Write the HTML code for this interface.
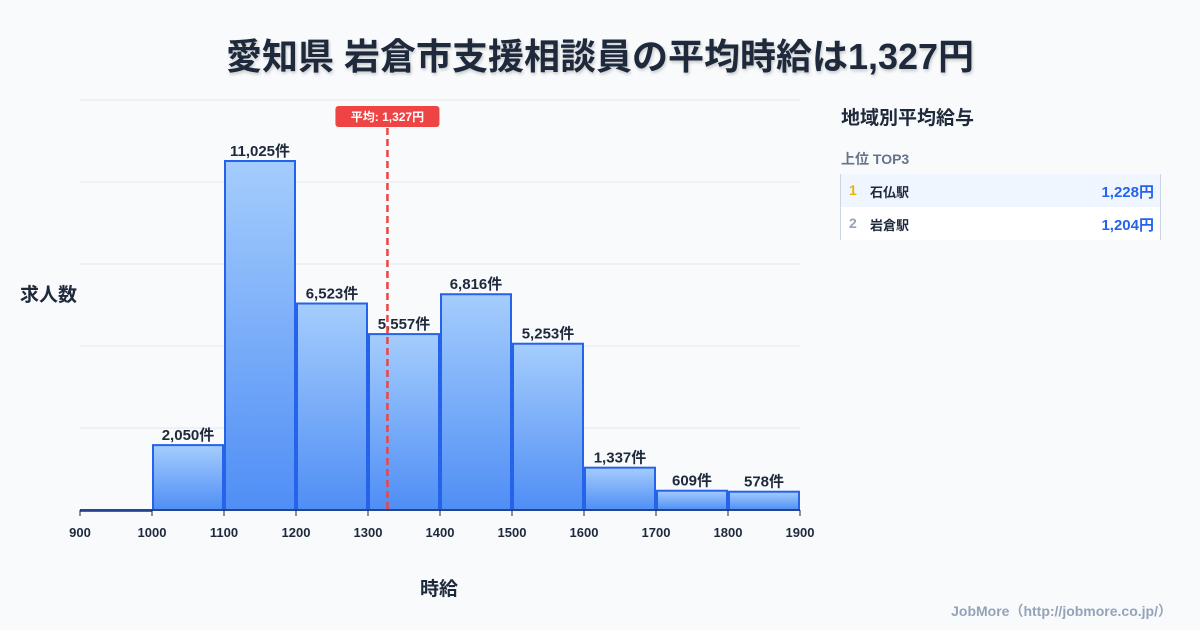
<!DOCTYPE html>
<html><head><meta charset="utf-8"><style>
body{margin:0;width:1200px;height:630px;background:#f8fafc;font-family:"Liberation Sans","Noto Sans CJK JP",sans-serif;overflow:hidden;position:relative}
.t{position:absolute;white-space:nowrap}
</style></head><body>
<div class="t" style="left:0;width:1200px;text-align:center;top:28px;font-size:36px;font-weight:700;color:#1e293b;text-shadow:1px 2px 3px rgba(0,0,0,0.2)">愛知県 岩倉市支援相談員の平均時給は1,327円</div>
<div class="t" style="left:20px;top:280px;font-size:19px;font-weight:700;color:#1e293b">求人数</div>
<div class="t" style="left:420px;top:574px;font-size:19px;font-weight:700;color:#1e293b">時給</div>
<div class="t" style="right:28px;top:601px;font-size:14px;font-weight:700;color:#94a3b8">JobMore（http://jobmore.co.jp/）</div>
<div class="t" style="left:841px;top:103px;font-size:19px;font-weight:700;color:#1e293b">地域別平均給与</div>
<div class="t" style="left:841px;top:149px;font-size:14px;font-weight:700;color:#64748b">上位 TOP3</div>
<div style="position:absolute;left:840px;top:174px;width:319px;border-left:1px solid #cbd5e1;border-right:1px solid #cbd5e1">
 <div style="height:33px;background:#eff6ff;position:relative;font-size:14px;font-weight:700">
  <span class="t" style="left:8px;top:8px;color:#eab308">1</span><span class="t" style="left:29px;top:8px;font-size:13px;color:#1e293b">石仏駅</span><span class="t" style="right:6px;top:7px;color:#2563eb;font-size:15px">1,228円</span></div>
 <div style="height:33px;background:#fff;position:relative;font-size:14px;font-weight:700">
  <span class="t" style="left:8px;top:8px;color:#94a3b8">2</span><span class="t" style="left:29px;top:8px;font-size:13px;color:#1e293b">岩倉駅</span><span class="t" style="right:6px;top:7px;color:#2563eb;font-size:15px">1,204円</span></div>
</div>
<svg id="c" width="1200" height="630" style="position:absolute;left:0;top:0">
<defs><linearGradient id="g" x1="0" y1="0" x2="0" y2="1"><stop offset="0" stop-color="#a5cdfd"/><stop offset="1" stop-color="#4f8ef5"/></linearGradient></defs>
</svg>
<script>
const binStarts=[900,1000,1100,1200,1300,1400,1500,1600,1700,1800];
const counts=[0,2050,11025,6523,5557,6816,5253,1337,609,578];
const xTicks=[900,1000,1100,1200,1300,1400,1500,1600,1700,1800,1900];
const meanValue=1327;
const binWidth=100;
const yMax=12952;
const svg=document.getElementById('c');const NS='http://www.w3.org/2000/svg';
const X=v=>80+(v-900)*0.72, Y=v=>510-v/yMax*410;
function mk(t,a){const e=document.createElementNS(NS,t);for(const k in a)e.setAttribute(k,a[k]);svg.appendChild(e);return e;}
for(let i=1;i<=5;i++){const l=mk('line',{x1:80,x2:800,y1:510-i*82,y2:510-i*82,stroke:'#e2e8f0','stroke-width':1});

}
binStarts.forEach((b,i)=>{const x0=X(b)+1,x1=X(b+binWidth)-1,y=Y(counts[i]);
const r=mk('rect',{x:x0,y:y,width:x1-x0,height:Math.max(510-y,1),fill:'url(#g)',stroke:'#2563eb','stroke-width':2});


if(counts[i]>0){const t=mk('text',{x:(x0+x1)/2,y:y-5,'text-anchor':'middle','font-size':15,'font-weight':700,fill:'#1e293b'});t.textContent=counts[i].toLocaleString('en-US')+'件';

}});
const ax=mk('line',{x1:80,x2:800,y1:510,y2:510,stroke:'#1e293b','stroke-width':1});


xTicks.forEach(v=>{const tk=mk('line',{x1:X(v),x2:X(v),y1:510,y2:516,stroke:'#1e293b'});


const t=mk('text',{x:X(v),y:537,'text-anchor':'middle','font-size':13,'font-weight':700,fill:'#1e293b'});t.textContent=v;

});
const mx=X(meanValue);
const ml=mk('line',{x1:mx,x2:mx,y1:128,y2:510,stroke:'#ef4444','stroke-width':2.5,'stroke-dasharray':'7,4'});


const mb=mk('rect',{x:mx-52,y:106,width:104,height:21,rx:3,fill:'#ef4444'});


const mt=mk('text',{x:mx,y:121,'text-anchor':'middle','font-size':12,'font-weight':700,fill:'#fff'});mt.textContent='平均: 1,327円';


</script>
</body></html>
